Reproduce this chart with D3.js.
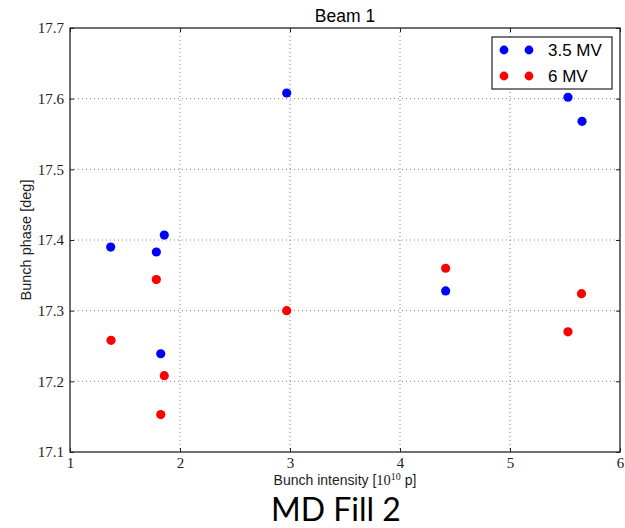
<!DOCTYPE html>
<html>
<head>
<meta charset="utf-8">
<script src="https://cdn.jsdelivr.net/npm/d3@7"></script>
<style>
  body { margin: 0; background: #fff; }
  svg { display: block; }
</style>
</head>
<body>
<svg id="chart"></svg>
<script>
// data
const intensity35 = [1.37, 1.785, 1.857, 1.825, 2.97, 4.415, 5.527, 5.655];
const phase35 = [17.39, 17.383, 17.407, 17.239, 17.608, 17.328, 17.602, 17.568];
const intensity6 = [1.373, 1.785, 1.857, 1.825, 2.97, 4.415, 5.527, 5.65];
const phase6 = [17.258, 17.344, 17.208, 17.153, 17.3, 17.36, 17.27, 17.324];
const seriesNames = ['3.5 MV', '6 MV'];
const seriesColors = ['#0000ff', '#ff0000'];
const xTicks = [1, 2, 3, 4, 5, 6];
const yTicks = [17.1, 17.2, 17.3, 17.4, 17.5, 17.6, 17.7];

const width = 625, height = 528;
const margin = { top: 28, right: 5, bottom: 76, left: 70 };
const plotW = width - margin.left - margin.right;
const plotH = height - margin.top - margin.bottom;

const svg = d3.select('#chart').attr('width', width).attr('height', height);
const g = svg.append('g').attr('transform', `translate(${margin.left},${margin.top})`);

const x = d3.scaleLinear().domain([1, 6]).range([0, plotW]);
const y = d3.scaleLinear().domain([17.1, 17.7]).range([plotH, 0]);

// grid
g.append('g').selectAll('line').data(xTicks.slice(1, -1)).join('line')
  .attr('x1', d => x(d)).attr('x2', d => x(d))
  .attr('y1', 0).attr('y2', plotH)
  .attr('stroke', '#666').attr('stroke-width', 0.8).attr('stroke-dasharray', '1,3');
g.append('g').selectAll('line').data(yTicks.slice(1, -1)).join('line')
  .attr('y1', d => y(d)).attr('y2', d => y(d))
  .attr('x1', 0).attr('x2', plotW)
  .attr('stroke', '#666').attr('stroke-width', 0.8).attr('stroke-dasharray', '1,3');

// axes (ticks inward, serif math-style labels)
const xAxis = g.append('g').attr('transform', `translate(0,${plotH})`)
  .call(d3.axisBottom(x).tickValues(xTicks).tickFormat(d3.format('d')).tickSizeInner(-4).tickSizeOuter(0).tickPadding(5));
const yAxis = g.append('g')
  .call(d3.axisLeft(y).tickValues(yTicks).tickFormat(d3.format('.1f')).tickSizeInner(-4).tickSizeOuter(0).tickPadding(6));
g.append('g').call(d3.axisTop(x).tickValues(xTicks).tickFormat('').tickSizeInner(-4).tickSizeOuter(0));
g.append('g').attr('transform', `translate(${plotW},0)`)
  .call(d3.axisRight(y).tickValues(yTicks).tickFormat('').tickSizeInner(-4).tickSizeOuter(0));

svg.selectAll('.domain').remove();
svg.selectAll('.tick line').attr('stroke', '#222');
[xAxis, yAxis].forEach(a => a.selectAll('text')
  .attr('font-family', '"Liberation Serif", serif')
  .attr('font-size', 15).attr('fill', '#222'));

// frame
g.append('rect').attr('width', plotW).attr('height', plotH)
  .attr('fill', 'none').attr('stroke', '#222').attr('stroke-width', 1.3);

// points
const series = [
  intensity35.map((v, i) => ({ x: v, y: phase35[i] })),
  intensity6.map((v, i) => ({ x: v, y: phase6[i] }))
];
series.forEach((pts, k) => {
  g.append('g').selectAll('circle').data(pts).join('circle')
    .attr('cx', d => x(d.x)).attr('cy', d => y(d.y))
    .attr('r', 4.6).attr('fill', seriesColors[k]);
});

// title and labels
svg.append('text').attr('x', margin.left + plotW / 2).attr('y', 22)
  .attr('text-anchor', 'middle').attr('font-family', '"Liberation Sans", sans-serif')
  .attr('font-size', 17.5).text('Beam 1');

const xl = svg.append('text').attr('x', margin.left + plotW / 2).attr('y', 485)
  .attr('text-anchor', 'middle').attr('font-family', '"Liberation Sans", sans-serif')
  .attr('font-size', 14).attr('fill', '#222');
xl.append('tspan').text('Bunch intensity [');
xl.append('tspan').attr('font-family', '"Liberation Serif", serif').attr('font-size', 14.5).text('10');
xl.append('tspan').attr('font-family', '"Liberation Serif", serif').attr('font-size', 10).attr('dy', -5).text('10');
xl.append('tspan').attr('dy', 5).text(' p]');

svg.append('text')
  .attr('transform', `translate(31,${margin.top + plotH / 2}) rotate(-90)`)
  .attr('text-anchor', 'middle').attr('font-family', '"Liberation Sans", sans-serif')
  .attr('font-size', 14.5).attr('fill', '#222').text('Bunch phase [deg]');

svg.append('text').attr('x', 336).attr('y', 521)
  .attr('text-anchor', 'middle').attr('font-family', 'Lato, "Open Sans", sans-serif')
  .attr('font-size', 32).attr('fill', '#000').text('MD Fill 2');

// legend
const lg = svg.append('g').attr('transform', 'translate(492,37)');
lg.append('rect').attr('width', 120).attr('height', 52)
  .attr('fill', '#fff').attr('stroke', '#222').attr('stroke-width', 1.2);
seriesNames.forEach((name, i) => {
  const row = lg.append('g').attr('transform', `translate(0,${13 + i * 26})`);
  [12, 37].forEach(cx => row.append('circle').attr('cx', cx).attr('cy', 0)
    .attr('r', 4.4).attr('fill', seriesColors[i]));
  row.append('text').attr('x', 56).attr('y', 6)
    .attr('font-family', '"Liberation Sans", sans-serif').attr('font-size', 17)
    .text(name);
});
</script>
</body>
</html>
